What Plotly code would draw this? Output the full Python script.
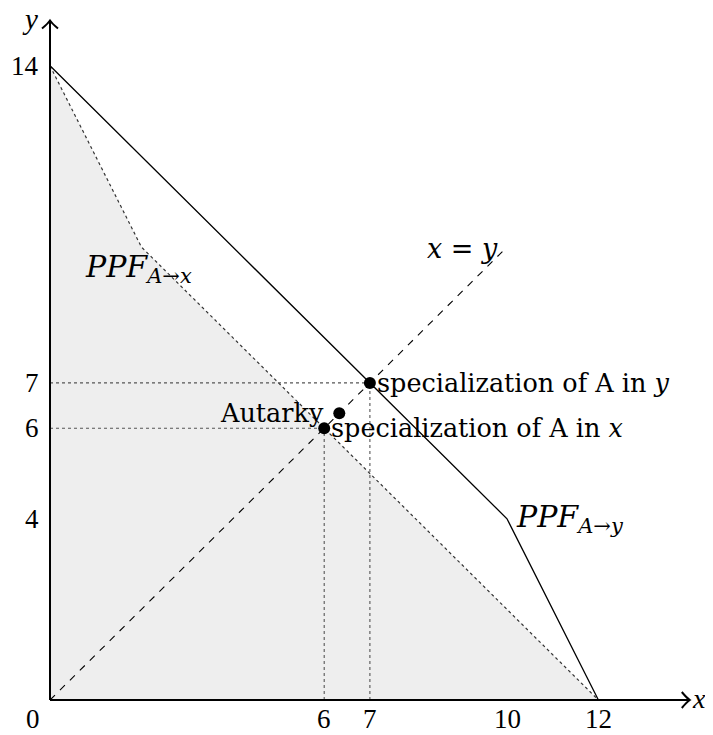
import plotly.graph_objects as go

# ---- data ----
ppf_y_x = [0, 10, 12]          # PPF A->y (solid)
ppf_y_y = [14, 4, 0]
ppf_x_x = [0, 2, 12]           # PPF A->x (dotted, shaded)
ppf_x_y = [14, 10, 0]
diag_x = [0, 10]               # x = y line
diag_y = [0, 10]
spec_y_pt = (7, 7)             # specialization of A in y
spec_x_pt = (6, 6)             # specialization of A in x
autarky_pt = (6.33, 6.33)
x_ticks = [6, 7, 10, 12]
y_ticks = [14, 7, 6, 4]
x_axis_max = 14
y_axis_max = 15

NUMFONT = "Liberation Serif"
TXTFONT = "DejaVu Serif"
FS = 27
TFS = 25.5

# pixel geometry (page body has an 8px margin; figure runs to the window edge)
PAD = 8
W, H = 713 - PAD, 735 - PAD
x0_px, y0_px = 50 - PAD, 700 - PAD
ux, uy = 45.7, 45.3
xr = [-x0_px / ux, (W - x0_px) / ux]
yr = [-(H - y0_px) / uy, y0_px / uy]

fig = go.Figure()

fig.add_trace(go.Scatter(x=[0] + ppf_x_x + [0], y=[0] + ppf_x_y + [0], fill="toself",
                         fillcolor="#eeeeee", line=dict(width=0), mode="lines",
                         hoverinfo="skip"))
fig.add_trace(go.Scatter(x=ppf_x_x, y=ppf_x_y, mode="lines",
                         line=dict(color="#333333", width=1.2, dash="dot")))
fig.add_trace(go.Scatter(x=ppf_y_x, y=ppf_y_y, mode="lines",
                         line=dict(color="black", width=1.3)))
fig.add_trace(go.Scatter(x=diag_x, y=diag_y, mode="lines",
                         line=dict(color="black", width=1.1, dash="7px,7px")))
for (px, py) in [spec_y_pt, spec_x_pt]:
    fig.add_trace(go.Scatter(x=[0, px], y=[py, py], mode="lines",
                             line=dict(color="#555555", width=1.1, dash="dot")))
    fig.add_trace(go.Scatter(x=[px, px], y=[0, py], mode="lines",
                             line=dict(color="#555555", width=1.1, dash="dot")))
fig.add_trace(go.Scatter(x=[spec_y_pt[0], spec_x_pt[0], autarky_pt[0]],
                         y=[spec_y_pt[1], spec_x_pt[1], autarky_pt[1]],
                         mode="markers", marker=dict(color="black", size=12)))

fig.add_shape(type="line", x0=0, y0=0, x1=x_axis_max, y1=0, line=dict(color="black", width=2))
fig.add_shape(type="line", x0=0, y0=0, x1=0, y1=y_axis_max, line=dict(color="black", width=2))
fig.add_shape(type="path", xsizemode="pixel", ysizemode="pixel", xanchor=x_axis_max, yanchor=0,
              path="M -8,8 Q -3,2 0,0 Q -3,-2 -8,-8", line=dict(color="black", width=2))
fig.add_shape(type="path", xsizemode="pixel", ysizemode="pixel", xanchor=0, yanchor=y_axis_max,
              path="M -8,-8 Q -2,-3 0,0 Q 2,-3 8,-8", line=dict(color="black", width=2))

ann = []
def A(x, y, text, font=TXTFONT, size=TFS, **kw):
    d = dict(x=x, y=y, text=text, showarrow=False, font=dict(family=font, size=size, color="black"))
    d.update(kw)
    ann.append(d)

for t in x_ticks:
    A(t, 0, str(t), font=NUMFONT, size=FS, yshift=-19, xanchor="center", yanchor="middle")
for t in y_ticks:
    A(0, t, str(t), font=NUMFONT, size=FS, xshift=-9, xanchor="right", yanchor="middle")
A(0, 0, "0", font=NUMFONT, size=FS, xshift=-8, yshift=-19, xanchor="right", yanchor="middle")
A(x_axis_max, 0, "<i>x</i>", font=NUMFONT, size=28, xshift=0, yshift=2, xanchor="left", yanchor="middle")
A(0, y_axis_max, "<i>y</i>", font=NUMFONT, size=29, xshift=-10, yshift=2, xanchor="right", yanchor="middle")

A(spec_y_pt[0], spec_y_pt[1], "specialization of A in <i>y</i>", xshift=5, xanchor="left", yanchor="middle")
A(spec_x_pt[0], spec_x_pt[1], "specialization of A in <i>x</i>", xshift=5, xanchor="left", yanchor="middle")
A(autarky_pt[0], autarky_pt[1], "Autarky", xshift=-13, xanchor="right", yanchor="middle")
A(diag_x[1], diag_y[1], "<i>x</i> = <i>y</i>", size=27, xshift=-7, yshift=-1, xanchor="right", yanchor="middle")
A(ppf_x_x[1], ppf_x_y[1], "<i>PPF</i><sub><i>A</i>→<i>x</i></sub>", size=30, xshift=-58, yshift=-21,
  xanchor="left", yanchor="middle")
A(ppf_y_x[1], ppf_y_y[1], "<i>PPF</i><sub><i>A</i>→<i>y</i></sub>", size=30, xshift=7, yshift=0,
  xanchor="left", yanchor="middle")

fig.update_layout(
    width=W, height=H, margin=dict(l=0, r=0, t=0, b=0),
    paper_bgcolor="white", plot_bgcolor="white", showlegend=False,
    xaxis=dict(range=xr, visible=False, fixedrange=True),
    yaxis=dict(range=yr, visible=False, fixedrange=True),
    annotations=ann,
)
fig.write_html("out.html")
